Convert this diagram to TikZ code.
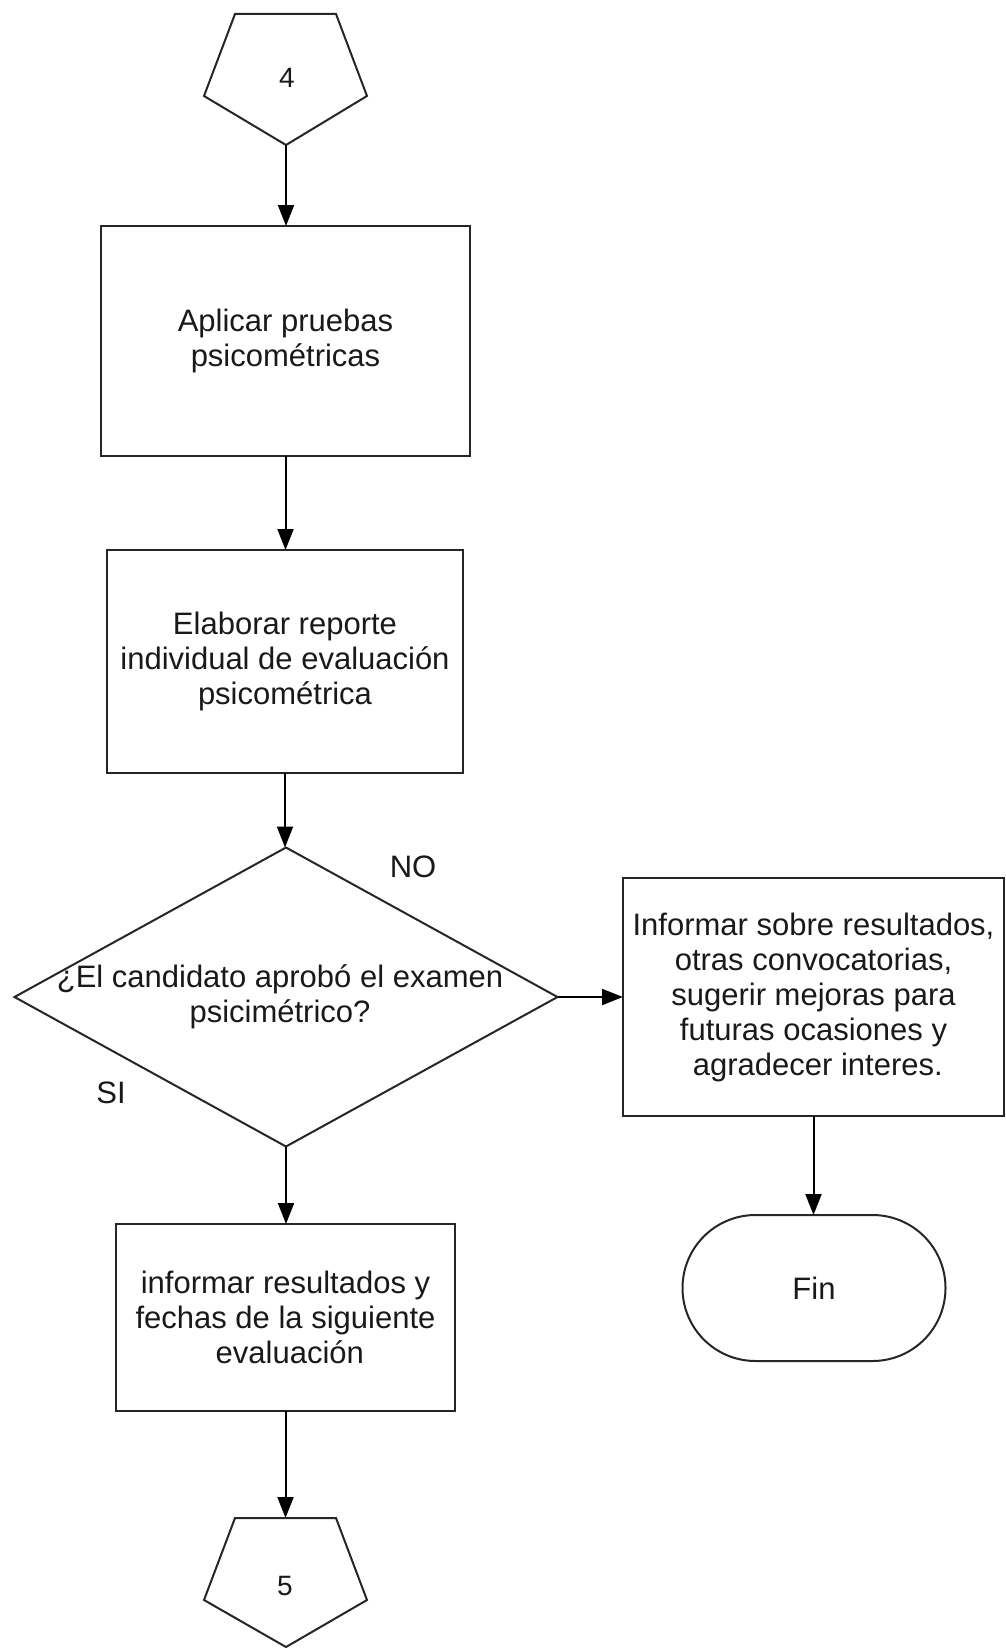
\documentclass[tikz,border=0pt]{standalone}
\usepackage{fontspec}
\setmainfont{Liberation Sans}
\usetikzlibrary{shapes.geometric,shapes.misc,arrows.meta}
\begin{document}
\begin{tikzpicture}[x=1pt,y=-1pt,
  every node/.style={inner sep=0pt, outer sep=0pt},
  lbl/.style={font=\fontsize{31}{35}\selectfont, align=center, text=black!90},
  box/.style={draw=black!85, line width=2pt, rectangle, lbl},
  dec/.style={draw=black!85, line width=2pt, diamond},
  term/.style={draw=black!85, line width=2pt, rounded rectangle, lbl},
  conn/.style={draw=black!85, line width=2pt, line join=miter},
  flow/.style={draw=black, line width=2pt, -{Triangle[length=21pt,width=16pt]}}
]
\useasboundingbox (0,0) rectangle (1005,1648);

% off-page connector 4
\draw[conn] (235,14) -- (336,14) -- (367,96) -- (286,145) -- (204,96) -- cycle;
\node[lbl, font=\fontsize{28}{33}\selectfont] (c4) at (287,78) {4};
\coordinate (c4b) at (286,145);

% process boxes
\node[box, minimum width=369pt, minimum height=230pt] (b1) at (285.5,341) {Aplicar pruebas\\psicométricas};
\node[box, minimum width=356pt, minimum height=223pt] (b2) at (285,661.5) {Elaborar reporte\\individual de evaluación\\psicométrica};

% decision
\node[dec, minimum width=543pt, minimum height=299pt] (d) at (286,997) {};
\node[lbl] (dt) at (280,997) {¿El candidato aprobó el examen\\psicimétrico?};
\node[lbl] (no) at (413,867) {NO};
\node[lbl] (si) at (111,1093) {SI};

\node[box, minimum width=381pt, minimum height=238pt] (rb) at (813.5,997) {Informar sobre resultados,\\otras convocatorias,\\sugerir mejoras para\\futuras ocasiones y\\\ agradecer interes.};
\node[term, minimum width=263pt, minimum height=146pt] (fin) at (814,1288) {Fin};

\node[box, minimum width=339pt, minimum height=187pt] (b3) at (285.5,1317.5) {informar resultados y\\fechas de la siguiente\\\ evaluación};

% off-page connector 5
\draw[conn] (235,1518) -- (336,1518) -- (367,1600) -- (286,1647) -- (204,1600) -- cycle;
\node[lbl, font=\fontsize{28}{33}\selectfont] (c5) at (285,1586) {5};
\coordinate (c5t) at (286,1518);

% connectors
\draw[flow] (c4b) -- (c4b |- b1.north);
\draw[flow] (b1.south) -- (b1.south |- b2.north);
\draw[flow] (b2.south) -- (b2.south |- d.north);
\draw[flow] (d.east) -- (rb.west);
\draw[flow] (rb.south) -- (rb.south |- fin.north);
\draw[flow] (d.south) -- (d.south |- b3.north);
\draw[flow] (b3.south) -- (b3.south |- c5t);
\end{tikzpicture}
\end{document}
